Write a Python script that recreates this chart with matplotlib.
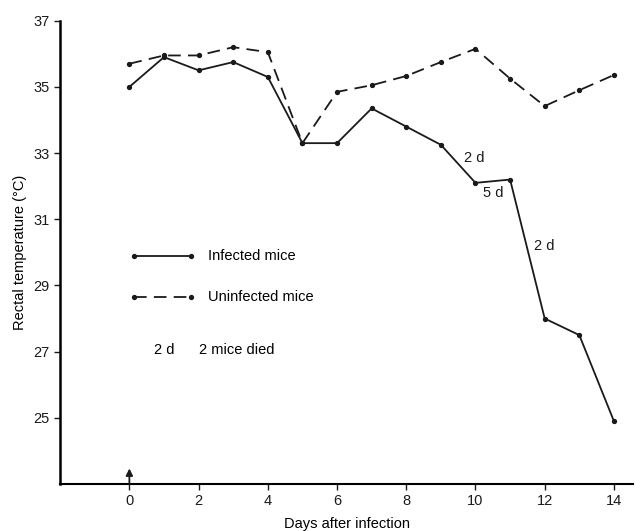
import matplotlib.pyplot as plt

plt.rcParams['font.family'] = ['Liberation Sans', 'DejaVu Sans']

days = list(range(15))
infected = [35.0, 35.9, 35.5, 35.75, 35.3, 33.3, 33.3, 34.35, 33.8, 33.25, 32.1, 32.2, 28.0, 27.5, 24.9]
uninfected = [35.7, 35.95, 35.95, 36.2, 36.05, 33.3, 34.85, 35.05, 35.33, 35.75, 36.15, 35.25, 34.42, 34.9, 35.36]

# deaths: (x, y, label)
death_notes = [(9.95, 32.85, '2 d'), (10.5, 31.8, '5 d'), (12.0, 30.2, '2 d')]

fig = plt.figure(figsize=(6.4, 5.31), dpi=100)
ax = fig.add_axes([0.094, 0.0885, 0.895, 0.8725])

ax.plot(days, infected, '-', color='#1a1a1a', lw=1.3, marker='o', ms=2.8)
ax.plot(days, uninfected, '--', color='#1a1a1a', lw=1.3, marker='o', ms=2.8, dashes=(7, 4))

for x, y, s in death_notes:
    ax.text(x, y, s, fontsize=10.5, ha='center', va='center', color='#1a1a1a')

# legend drawn by hand inside the axes
ax.plot([0.12, 1.78], [29.9, 29.9], '-', color='#1a1a1a', lw=1.3, marker='o', ms=2.8)
ax.text(2.28, 29.9, 'Infected mice', fontsize=10.5, va='center')
ax.plot([0.12, 1.78], [28.65, 28.65], '--', color='#1a1a1a', lw=1.3, marker='o', ms=2.8, dashes=(7, 4))
ax.text(2.28, 28.65, 'Uninfected mice', fontsize=10.5, va='center')
ax.text(1.0, 27.05, '2 d', fontsize=10.5, ha='center', va='center')
ax.text(2.0, 27.05, '2 mice died', fontsize=10.5, va='center')

# infection arrow at day 0
ax.annotate('', xy=(0, 23.47), xytext=(0, 23.0),
            arrowprops=dict(arrowstyle='-|>', color='#1a1a1a', lw=1.3,
                            mutation_scale=10, shrinkA=0, shrinkB=0))

ax.set_xlim(-2, 14.55)
ax.set_ylim(23, 37)
ax.set_xticks(range(0, 15, 2))
ax.set_yticks(range(25, 38, 2))
ax.spines['top'].set_visible(False)
ax.spines['right'].set_visible(False)
ax.spines['left'].set_linewidth(1.8)
ax.spines['bottom'].set_linewidth(1.5)
ax.tick_params(direction='out', length=4, width=1, labelsize=10.5, colors='#1a1a1a')
ax.set_xlabel('Days after infection', fontsize=10.5, labelpad=6)
ax.set_ylabel('Rectal temperature (°C)', fontsize=10.5, labelpad=5)

fig.savefig('out.png', dpi=100)
